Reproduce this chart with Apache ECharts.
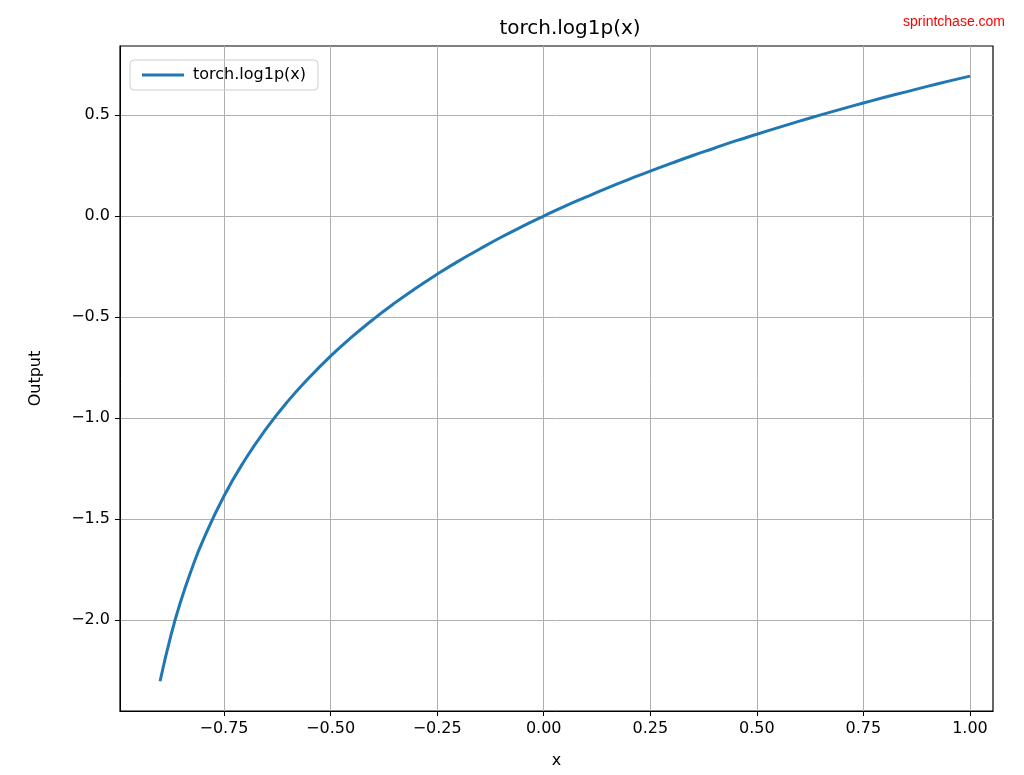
<!DOCTYPE html>
<html><head><meta charset="utf-8">
<script src="https://cdn.jsdelivr.net/npm/echarts@6/dist/echarts.min.js"></script>
<style>html,body{margin:0;background:#fff}#c{width:1024px;height:775px}</style>
</head><body><div id="c"></div>
<script>
const xValues = [-0.9,-0.875,-0.85,-0.825,-0.8,-0.75,-0.7,-0.65,-0.6,-0.55,-0.5,-0.45,-0.4,-0.35,-0.3,-0.25,-0.2,-0.15,-0.1,-0.05,0,0.05,0.1,0.15,0.2,0.25,0.3,0.35,0.4,0.45,0.5,0.55,0.6,0.65,0.7,0.75,0.8,0.85,0.9,0.95,1.0];
const yValues = [-2.303,-2.079,-1.897,-1.743,-1.609,-1.386,-1.204,-1.050,-0.916,-0.799,-0.693,-0.598,-0.511,-0.431,-0.357,-0.288,-0.223,-0.163,-0.105,-0.051,0,0.049,0.095,0.140,0.182,0.223,0.262,0.300,0.336,0.372,0.405,0.438,0.470,0.501,0.531,0.560,0.588,0.615,0.642,0.668,0.693];
const xTicks = [-0.75,-0.5,-0.25,0,0.25,0.5,0.75,1.0];
const yTicks = [-2.0,-1.5,-1.0,-0.5,0.0,0.5];
const fmt = (v,d) => { const s = Math.abs(v).toFixed(d); return (v < -1e-9 ? '\u2212' : '') + s; };
const font = 'DejaVu Sans';
const chart = echarts.init(document.getElementById('c'));
chart.setOption({
  animation:false,
  textStyle:{fontFamily:font},
  title:[{text:'torch.log1p(x)',left:565,top:14,textAlign:'center',textStyle:{fontFamily:font,fontSize:20,fontWeight:'normal',color:'#000'}},
         {text:'sprintchase.com',right:14,top:10,textStyle:{fontFamily:'Liberation Sans',fontSize:14,fontWeight:'normal',color:'#ff0000'}}],
  legend:{left:130,top:60,padding:[7,12],itemWidth:42,itemHeight:3,itemGap:10,borderColor:'#ccc',borderWidth:1,borderRadius:4,
    textStyle:{fontFamily:font,fontSize:16,color:'#000',padding:[0,0,0,4]},data:[{name:'torch.log1p(x)',icon:'rect'}]},
  grid:{left:120,right:31,top:46,bottom:64,show:true,borderColor:'#000',borderWidth:1.2},
  xAxis:{type:'value',min:-0.994,max:1.054,name:'x',nameLocation:'middle',nameGap:42,
    nameTextStyle:{fontFamily:font,fontSize:16,color:'#000'},
    axisLine:{onZero:false,lineStyle:{color:'#000'}},
    axisTick:{show:true,length:5,customValues:xTicks,lineStyle:{color:'#000'}},
    axisLabel:{customValues:xTicks,formatter:v=>fmt(v,2),fontFamily:font,fontSize:16,color:'#000',margin:10},
    splitLine:{show:true,lineStyle:{color:'#b0b0b0',width:1}}},
  yAxis:{type:'value',min:-2.45,max:0.842,name:'Output',nameLocation:'middle',nameGap:76,
    nameTextStyle:{fontFamily:font,fontSize:16,color:'#000'},
    axisLine:{show:true,onZero:false,lineStyle:{color:'#000'}},
    axisTick:{show:true,length:5,customValues:yTicks,lineStyle:{color:'#000'}},
    axisLabel:{customValues:yTicks,formatter:v=>fmt(v,1),fontFamily:font,fontSize:16,color:'#000',margin:10},
    splitLine:{show:true,lineStyle:{color:'#b0b0b0',width:1}}},
  series:[{name:'torch.log1p(x)',type:'line',smooth:true,showSymbol:false,symbol:'none',
    lineStyle:{color:'#1f77b4',width:3},itemStyle:{color:'#1f77b4'},
    data:xValues.map((x,i)=>[x,yValues[i]])}]
});
</script></body></html>
